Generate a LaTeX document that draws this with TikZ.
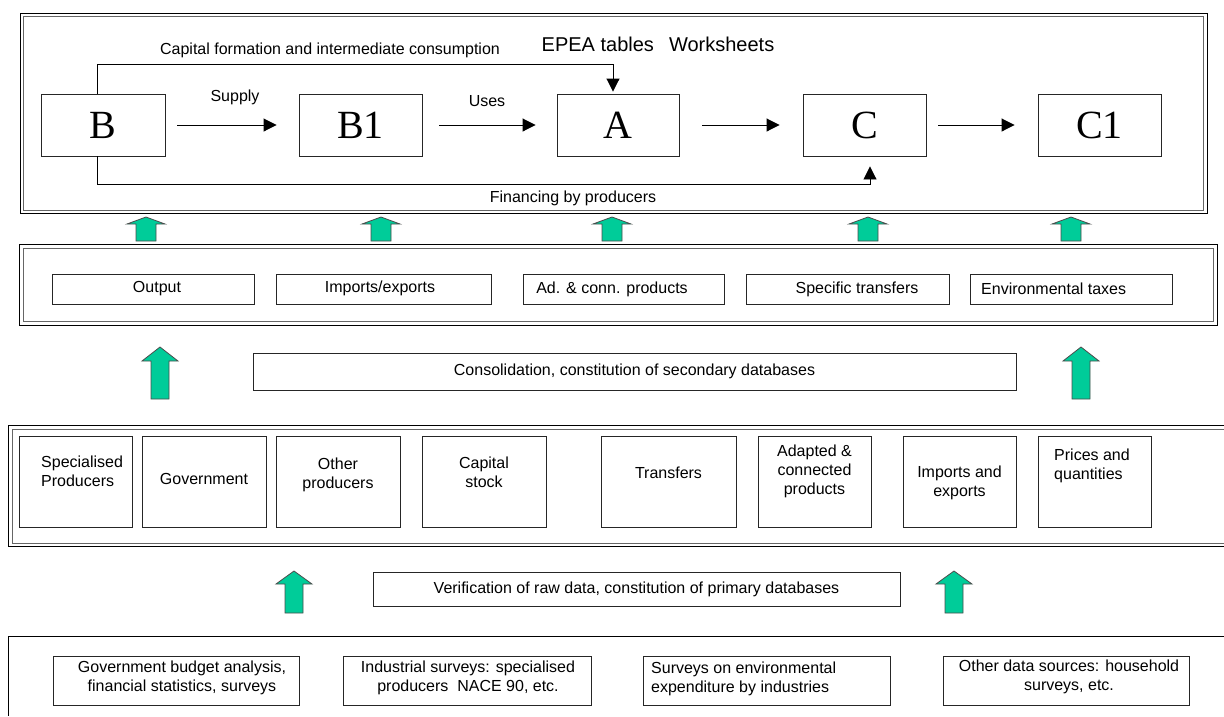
\documentclass[tikz,border=0pt]{standalone}
\usepackage{fontspec}
\setmainfont{Liberation Sans}
\newfontfamily\lettfont{Liberation Serif}
\usetikzlibrary{arrows.meta}
\definecolor{gfill}{RGB}{0,204,153}
\newcommand{\biglet}{\lettfont\fontsize{40}{44}\selectfont}
\newcommand{\uparr}[6]{%
  \filldraw[garrow] (#1,#2) -- ({#1+#5},#4) -- ({#1+#6},#4) -- ({#1+#6},#3)
    -- ({#1-#6},#3) -- ({#1-#6},#4) -- ({#1-#5},#4) -- cycle;}
\begin{document}
\begin{tikzpicture}[x=1pt,y=-1pt,
  box/.style={draw=black!85, line width=0.9pt, inner sep=0pt, fill=white},
  lbl/.style={font=\fontsize{16}{19}\selectfont, inner sep=0pt},
  letter/.style={box, minimum width=123pt, minimum height=62pt, font=\biglet},
  midbox/.style={box, minimum height=30pt},
  rowbox/.style={box, minimum height=91pt},
  botbox/.style={box, minimum height=49pt},
  outerline/.style={draw=black, line width=1pt},
  innerline/.style={draw=black!60, line width=1pt},
  arr/.style={draw=black, line width=0.9pt, -{Triangle[length=13pt,width=13pt]}},
  garrow/.style={fill=gfill, draw=black!70, line width=0.8pt}]
\useasboundingbox (0,0) rectangle (1224,716);

% ---------- top frame ----------
\draw[outerline] (20,13) rectangle (1207,213);
\draw[innerline] (23,16) rectangle (1203,210);

\node[letter, minimum width=124pt] (B) at (103,125) {B};
\node[letter] (B1) at (360.5,125) {B1};
\node[letter, minimum width=122pt] (A) at (618,125) {A};
\node[letter] (C) at (864.5,125) {C};
\node[letter] (C1) at (1099.5,125) {C1};

\draw[arr] ([xshift=12pt]B.east) -- ([xshift=-22pt]B1.west);
\draw[arr] ([xshift=17pt]B1.east) -- ([xshift=-21pt]A.west);
\draw[arr] ([xshift=23pt]A.east) -- ([xshift=-23pt]C.west);
\draw[arr] ([xshift=12pt]C.east) -- ([xshift=-23pt]C1.west);

\coordinate (tl) at (97,64);
\coordinate (tr) at (613,64);
\coordinate (bl) at (97,184);
\coordinate (br) at (870,184);
\draw[arr] ([xshift=-6pt]B.north) -- (tl) -- (tr) -- ([xshift=-5pt,yshift=2pt]A.north);
\draw[arr] ([xshift=-6pt]B.south) -- (bl) -- (br) -- ([xshift=5.5pt,yshift=-10pt]C.south);

\node[lbl] (capf) at (330,50) {Capital formation and intermediate consumption};
\node[lbl] (supply) at (235,97) {Supply};
\node[lbl] (uses) at (487,101) {Uses};
\node[lbl] (finp) at (573,198) {Financing by producers};
\node[inner sep=0pt, font=\fontsize{20}{24}\selectfont] (epea) at (658,44) {EPEA tables\hspace{9.5pt} Worksheets};

% ---------- small green arrows ----------
\foreach \cx in {146,381,612,868,1071} {\uparr{\cx}{217}{241}{224}{19}{10}}

% ---------- middle frame ----------
\draw[outerline] (19,244) rectangle (1217,325);
\draw[innerline] (23,248) rectangle (1213,321);

\node[midbox, minimum width=202pt] (out) at (153,289) {};
\node[lbl] (outt) at (157,289) {Output};
\node[midbox, minimum width=215pt] (imp) at (383.5,289) {};
\node[lbl] (impt) at (380,288) {Imports/exports};
\node[midbox, minimum width=201pt] (ad) at (623.5,289) {};
\node[lbl] (adt) at (612,289) {Ad. \& conn. products};
\node[midbox, minimum width=203pt] (spec) at (847.5,289) {};
\node[lbl] (spect) at (857,289) {Specific transfers};
\node[midbox, minimum width=202pt] (env) at (1071,289) {};
\node[lbl, anchor=west] (envt) at (981,289) {Environmental taxes};

% ---------- consolidation ----------
\uparr{160}{347}{399}{361}{18}{9}
\uparr{1081}{347}{399}{361}{18}{9}
\node[box, minimum width=763pt, minimum height=37pt, lbl] (cons) at (634.5,371.5)
  {Consolidation, constitution of secondary databases};

% ---------- third frame ----------
\draw[outerline] (1224,425) -- (8,425) -- (8,546) -- (1224,546);
\draw[innerline] (1224,429) -- (12,429) -- (12,543) -- (1224,543);

\node[rowbox, minimum width=113pt] (sp) at (75.5,481.5) {};
\node[lbl, align=left, anchor=west] (spt) at (41,471.5) {Specialised\\Producers};
\node[rowbox, minimum width=124pt] (gov) at (204,481.5) {};
\node[lbl] (govt) at (204,479) {Government};
\node[rowbox, minimum width=124pt] (oth) at (338,481.5) {};
\node[lbl, align=center] (otht) at (338,475) {Other\\producers};
\node[rowbox, minimum width=124pt] (cap) at (484,481.5) {};
\node[lbl, align=center] (capt) at (484,472) {Capital\\stock};
\node[rowbox, minimum width=135pt] (tra) at (668.5,481.5) {};
\node[lbl] (trat) at (668.5,473) {Transfers};
\node[rowbox, minimum width=113pt] (ada) at (814.5,481.5) {};
\node[lbl, align=center] (adat) at (814.5,471) {Adapted \&\\connected\\products};
\node[rowbox, minimum width=113pt] (iae) at (959.5,481.5) {};
\node[lbl, align=center] (iaet) at (959.5,482.5) {Imports and\\exports};
\node[rowbox, minimum width=113pt] (pri) at (1094.5,481.5) {};
\node[lbl, align=left, anchor=west] (prit) at (1054,465.5) {Prices and\\quantities};

% ---------- verification ----------
\uparr{294}{571}{613}{584}{18}{9}
\uparr{954}{571}{613}{584}{18}{9}
\node[box, minimum width=527pt, minimum height=34pt, lbl] (ver) at (636.5,589)
  {Verification of raw data, constitution of primary databases};

% ---------- bottom frame ----------
\draw[outerline] (1224,636) -- (8,636) -- (8,716);

\node[botbox, minimum width=246pt] (gba) at (176,680.5) {};
\node[lbl, align=center] (gbat) at (182,678) {Government budget analysis,\\financial statistics, surveys};
\node[botbox, minimum width=248pt] (ind) at (467,680.5) {};
\node[lbl, align=center] (indt) at (468,678) {Industrial surveys: specialised\\producers\ \ NACE 90, etc.};
\node[botbox, minimum width=247pt] (sur) at (766.5,680.5) {};
\node[lbl, align=left, anchor=west] (surt) at (651,678.5) {Surveys on environmental\\expenditure by industries};
\node[botbox, minimum width=246pt] (ods) at (1066,680.5) {};
\node[lbl, align=center] (odst) at (1069,677) {Other data sources: household\\surveys, etc.};
\end{tikzpicture}
\end{document}
